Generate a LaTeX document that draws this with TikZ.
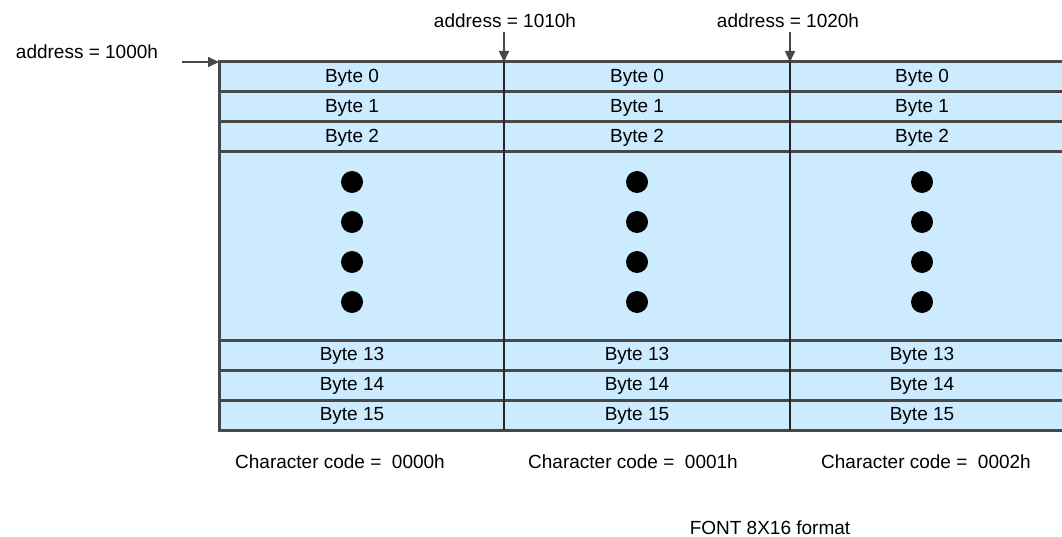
\documentclass[tikz,border=0pt]{standalone}
\usepackage{fontspec}
\setmainfont{Liberation Sans}
\usetikzlibrary{arrows.meta}
\definecolor{cellblue}{RGB}{204,235,255}
\definecolor{rulegray}{RGB}{72,72,72}

\begin{document}
\begin{tikzpicture}[x=1pt,y=-1pt,
  rowline/.style={rulegray,line width=3pt},
  colline/.style={black!85,line width=2.2pt},
  addrarrow/.style={rulegray,line width=1.6pt,-{Triangle[length=11pt,width=10pt]}},
  lbl/.style={font=\fontsize{19}{22}\selectfont,inner sep=0pt,anchor=base}]
  \useasboundingbox (0,0) rectangle (1062,537);
  % table background
  \fill[cellblue] (219,62) rectangle (1062,430);
  % row lines
  \foreach \y in {62,92,122,152,340,370,400,430}{
     \draw[rowline] (219,\y) -- (1062,\y);
  }
  % column lines
  \draw[rowline] (219,60.5) -- (219,431.5);
  \foreach \x in {504,790}{
     \draw[colline] (\x,62) -- (\x,430);
  }
  % byte labels and dots in each column
  \foreach \x [count=\c] in {352,637,922}{
     \foreach \b/\y in {0/83,1/113,2/143,13/360,14/390,15/420}{
        \node[lbl] (byte\c-\b) at (\x,\y) {Byte \b};
     }
     \foreach \y in {182,222,262,302}{
        \fill (\x,\y) circle (11);
     }
  }
  % start addresses
  \node[lbl] (addr0) at (87,59) {address = 1000h};
  \node[lbl] (addr1) at (505,28) {address = 1010h};
  \node[lbl] (addr2) at (788,28) {address = 1020h};
  \coordinate (from0) at (182,62);
  \coordinate (to0) at (219,62);
  \coordinate (from1) at (504,32);
  \coordinate (to1) at (504,62);
  \coordinate (from2) at (790,32);
  \coordinate (to2) at (790,62);
  \foreach \i in {0,1,2}{
     \draw[addrarrow] (from\i) -- (to\i);
  }
  % character codes
  \foreach \x/\code in {340/0000h, 633/0001h, 926/0002h}{
     \node[lbl] (code\code) at (\x,468) {Character code =\ \ \code};
  }
  \node[lbl] (caption) at (770,534) {FONT 8X16 format};
\end{tikzpicture}
\end{document}
